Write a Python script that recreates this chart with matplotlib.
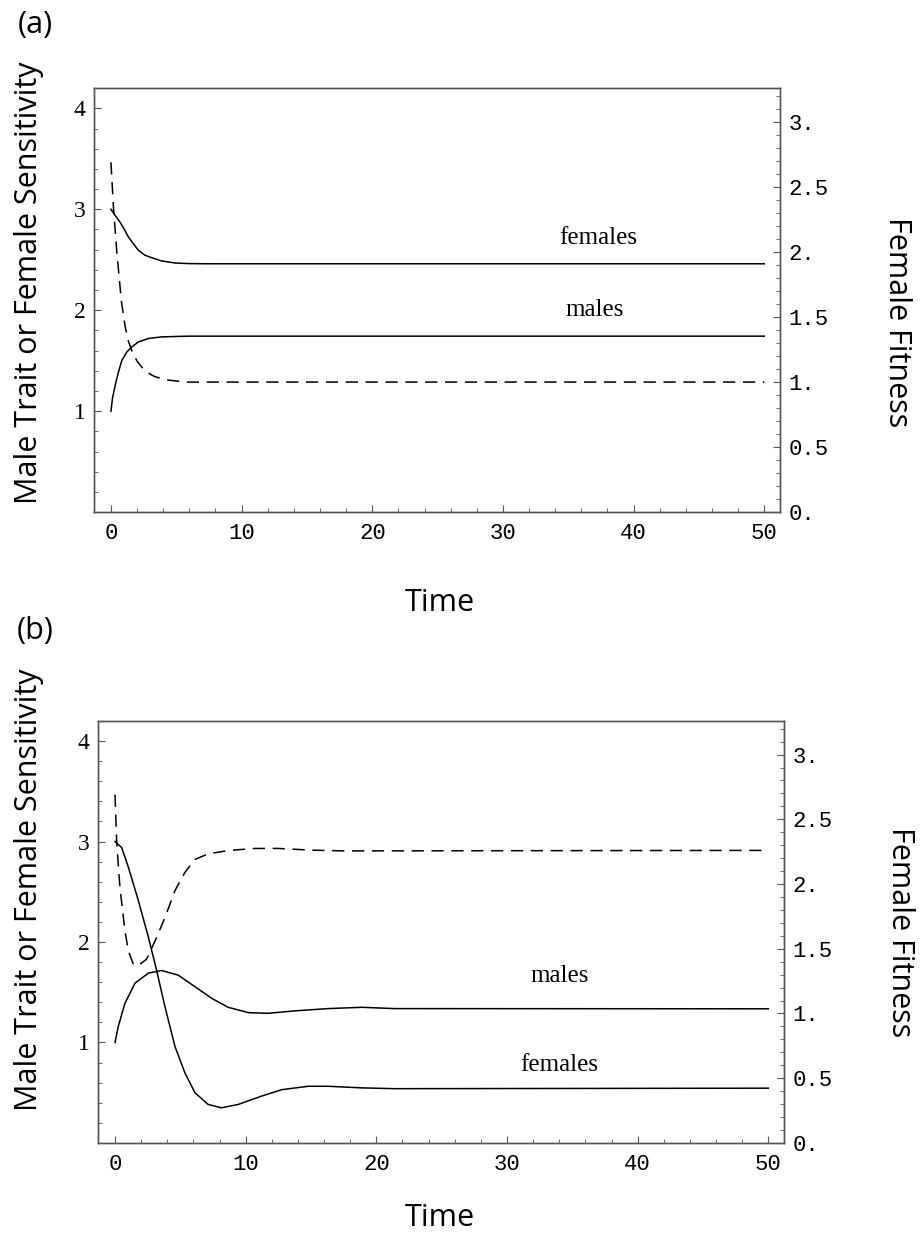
import matplotlib
matplotlib.use("Agg")
import matplotlib.pyplot as plt
from matplotlib.ticker import MultipleLocator

# (a)
a_fem_t = [0, 0.31, 0.69, 1.07, 1.33, 1.71, 2.09, 2.6, 3.12, 3.88, 4.9, 5.92, 7.5, 50]
a_fem_v = [3.0, 2.94, 2.874, 2.79, 2.726, 2.66, 2.594, 2.545, 2.52, 2.488, 2.468, 2.462, 2.46, 2.46]
a_mal_t = [0, 0.12, 0.33, 0.58, 0.84, 1.22, 1.6, 2.1, 2.87, 3.88, 5.92, 50]
a_mal_v = [1.0, 1.13, 1.26, 1.39, 1.505, 1.587, 1.637, 1.686, 1.72, 1.736, 1.743, 1.743]
a_fit_t = [0, 0.2, 0.45, 0.8, 1.1, 1.35, 1.6, 2.0, 2.4, 3.0, 3.4, 4.4, 5.7, 50]
a_fit_v = [2.69, 2.33, 2.0, 1.62, 1.42, 1.31, 1.24, 1.16, 1.11, 1.06, 1.04, 1.015, 1.0, 1.0]

# (b)
b_fem_t = [0, 0.51, 1.02, 1.78, 2.55, 3.18, 3.82, 4.59, 5.35, 6.12, 7.13, 8.15, 9.43,
           11.2, 12.75, 14.8, 16.3, 18.9, 21.4, 50]
b_fem_v = [3.0, 2.94, 2.745, 2.415, 2.05, 1.72, 1.357, 0.96, 0.697, 0.499, 0.383, 0.35, 0.383,
           0.465, 0.53, 0.564, 0.564, 0.548, 0.54, 0.545]
b_mal_t = [0, 0.25, 0.76, 1.53, 2.55, 3.57, 4.84, 6.12, 7.39, 8.66, 10.2, 11.7, 13.8,
           16.3, 18.9, 21.4, 50]
b_mal_v = [1.0, 1.16, 1.39, 1.59, 1.69, 1.716, 1.67, 1.555, 1.44, 1.35, 1.297, 1.29, 1.315,
           1.337, 1.35, 1.337, 1.335]
b_fit_t = [0, 0.13, 0.38, 0.76, 1.02, 1.4, 1.78, 2.42, 3.06, 3.82, 4.59, 5.35, 6.12, 7.13,
           8.66, 10.7, 12.5, 15.0, 17.6, 50]
b_fit_v = [2.69, 2.32, 1.97, 1.64, 1.485, 1.38, 1.37, 1.42, 1.56, 1.74, 1.95, 2.09, 2.19, 2.233,
           2.259, 2.275, 2.275, 2.262, 2.256, 2.26]

left_ticks = [1, 2, 3, 4]
right_ticks = [0, 0.5, 1, 1.5, 2, 2.5, 3]
right_labels = ["0.", "0.5", "1.", "1.5", "2.", "2.5", "3."]
x_ticks = [0, 10, 20, 30, 40, 50]

sans = "Open Sans"
spine_col = "#555555"
W, H = 923, 1243

fig = plt.figure(figsize=(9.23, 12.43), dpi=100)


def px(x, y):
    # pixel position (from top-left) to figure fraction
    return x / W, 1 - y / H


def panel(rect, fem, mal, fit, lab_fem, lab_mal, tag, tag_xy, time_xy, ylab_xy, flab_xy):
    ax = fig.add_axes(rect)
    ax.plot(fem[0], fem[1], color="black", lw=1.1)
    ax.plot(mal[0], mal[1], color="black", lw=1.1)
    ax.set_xlim(-1.3, 51.2)
    ax.set_ylim(0, 4.2)
    ax.set_xticks(x_ticks)
    ax.xaxis.set_minor_locator(MultipleLocator(2))
    ax.set_yticks(left_ticks)
    ax.yaxis.set_minor_locator(MultipleLocator(0.2))
    ax.tick_params(which="both", direction="in", top=False, right=False, color=spine_col)
    ax.tick_params(which="major", length=5, width=0.8)
    ax.tick_params(which="minor", length=3, width=0.6)
    ax.tick_params(axis="x", pad=8)
    ax.tick_params(axis="y", pad=6)
    for lbl in ax.get_xticklabels():
        lbl.set_family("Liberation Mono")
        lbl.set_fontsize(16)
    for lbl in ax.get_yticklabels():
        lbl.set_family("Liberation Serif")
        lbl.set_fontsize(17)
    for s in ax.spines.values():
        s.set_color(spine_col)
        s.set_linewidth(1.0)

    ax2 = ax.twinx()
    ax2.plot(fit[0], fit[1], color="black", lw=1.1, dashes=(8, 5))
    ax2.set_ylim(0, 3.26)
    ax2.set_yticks(right_ticks)
    ax2.set_yticklabels(right_labels, family="Liberation Mono", fontsize=16)
    ax2.yaxis.set_minor_locator(MultipleLocator(0.1))
    ax2.tick_params(which="both", direction="in", color=spine_col, pad=6)
    ax2.tick_params(which="major", length=5, width=0.8)
    ax2.tick_params(which="minor", length=3, width=0.6)
    for s in ax2.spines.values():
        s.set_color(spine_col)
        s.set_linewidth(1.0)

    ax.text(lab_fem[0], lab_fem[1], "females", family="Liberation Serif", fontsize=18,
            ha="center", va="center")
    ax.text(lab_mal[0], lab_mal[1], "males", family="Liberation Serif", fontsize=18,
            ha="center", va="center")

    fig.text(*px(*tag_xy), tag, family=sans, fontsize=22, ha="center", va="center")
    fig.text(*px(*time_xy), "Time", family=sans, fontsize=22, ha="center", va="center")
    fig.text(*px(*ylab_xy), "Male Trait or Female Sensitivity", family=sans, fontsize=22,
             rotation=90, ha="center", va="center")
    fig.text(*px(*flab_xy), "Female Fitness", family=sans, fontsize=22,
             rotation=-90, ha="center", va="center")
    return ax


panel([0.1018, 0.588, 0.7432, 0.3411], (a_fem_t, a_fem_v), (a_mal_t, a_mal_v),
      (a_fit_t, a_fit_v), (37.3, 2.72), (37.0, 2.0), "(a)",
      (35, 25), (440, 603), (29, 283), (897, 322))
panel([0.1062, 0.0805, 0.7432, 0.3395], (b_fem_t, b_fem_v), (b_mal_t, b_mal_v),
      (b_fit_t, b_fit_v), (34.0, 0.78), (34.0, 1.66), "(b)",
      (35, 631), (440, 1218), (29, 890), (900, 932))

fig.savefig("out.png", dpi=100)
